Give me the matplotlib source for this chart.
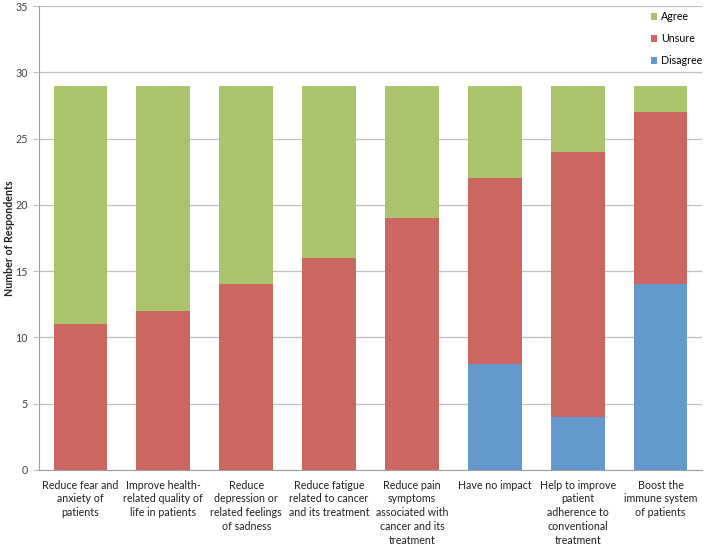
import matplotlib
matplotlib.use("Agg")
import matplotlib.pyplot as plt
import numpy as np

categories = [
    "Reduce fear and\nanxiety of\npatients",
    "Improve health-\nrelated quality of\nlife in patients",
    "Reduce\ndepression or\nrelated feelings\nof sadness",
    "Reduce fatigue\nrelated to cancer\nand its treatment",
    "Reduce pain\nsymptoms\nassociated with\ncancer and its\ntreatment",
    "Have no impact",
    "Help to improve\npatient\nadherence to\nconventional\ntreatment",
    "Boost the\nimmune system\nof patients",
]
disagree = [0, 0, 0, 0, 0, 8, 4, 14]
unsure = [11, 12, 14, 16, 19, 14, 20, 13]
agree = [18, 17, 15, 13, 10, 7, 5, 2]

plt.rcParams['font.family'] = ['Lato', 'DejaVu Sans']

W, H = 706, 545
fig = plt.figure(figsize=(W / 100, H / 100), dpi=100)
# axes box in pixels: left 39, right 702, top 6, bottom 470
ax = fig.add_axes([39 / W, 1 - 470 / H, 663 / W, 464 / H])

x = np.arange(len(categories))
w = 0.65
c_dis, c_uns, c_agr = "#6399CC", "#CD6660", "#AAC46C"
ax.bar(x, disagree, w, color=c_dis, label="Disagree", zorder=3)
ax.bar(x, unsure, w, bottom=disagree, color=c_uns, label="Unsure", zorder=3)
bottom2 = np.array(disagree) + np.array(unsure)
ax.bar(x, agree, w, bottom=bottom2, color=c_agr, label="Agree", zorder=3)

ax.set_xlim(-0.5, 7.5)
ax.set_ylim(0, 35)
ax.set_yticks(range(0, 36, 5))
ax.yaxis.grid(True, color="#BFBFBF", linewidth=0.9, zorder=0)
ax.set_xticks(x)
ax.set_xticklabels(categories, fontsize=7.7, linespacing=1.3, color="#202020")
ax.tick_params(axis="x", length=0, pad=7)
ax.tick_params(axis="y", length=4, color="#BFBFBF", labelsize=7.7,
               labelcolor="#404040", pad=4)
for s in ["top", "right"]:
    ax.spines[s].set_visible(False)
for s in ["left", "bottom"]:
    ax.spines[s].set_color("#A0A0A0")

ax.set_ylabel("Number of Respondents", fontsize=7.7, fontweight="bold",
              color="#202020")
ax.yaxis.set_label_coords(-(39 - 15) / 663, 0.5)

h, l = ax.get_legend_handles_labels()
ax.legend(h[::-1], l[::-1], loc="upper left",
          bbox_to_anchor=(651 / W, 1 - 11 / H), bbox_transform=fig.transFigure,
          frameon=False, fontsize=7.7, handlelength=0.6, handleheight=0.6,
          handletextpad=0.35, labelspacing=1.05, borderpad=0, borderaxespad=0)

fig.savefig("out.png", dpi=100)
